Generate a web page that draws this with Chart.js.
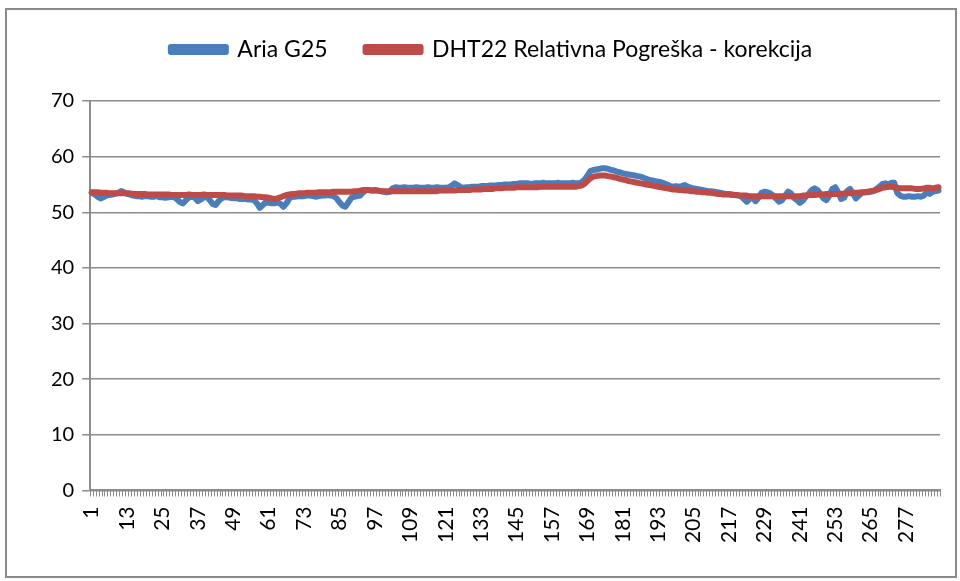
<!DOCTYPE html>
<html>
<head>
<meta charset="utf-8">
<script src="https://cdn.jsdelivr.net/npm/chart.js@4/dist/chart.umd.min.js"></script>
<style>
	html, body { margin: 0; padding: 0; background: #fff; }
	#wrap { position: relative; width: 960px; height: 581px; }
	#frame { position: absolute; left: 5px; top: 8px; width: 948px; height: 566px; border: 2px solid #8a8a8a; }
</style>
</head>
<body>
<div id="wrap">
	<div id="frame"></div>
	<canvas id="humid_line"></canvas>
</div>
<script>
// sample numbers 1..288, a label every 12th
const sampleCount = 288;
const labelStep = 12;
const categories = Array.from({ length: sampleCount }, (_, i) => String(i + 1));

const seriesNames = ['Aria G25', 'DHT22 Relativna Pogreška - korekcija'];

const ariaG25 = [
	53.5, 53.2, 52.8, 52.5, 52.7, 53.0, 53.1, 53.2, 53.3, 53.5, 53.8, 53.6,
	53.3, 53.2, 53.0, 52.9, 52.9, 52.8, 52.9, 52.9, 52.8, 52.8, 52.9, 52.7,
	52.7, 52.6, 52.7, 52.8, 52.7, 52.3, 51.8, 51.6, 52.2, 52.7, 52.8, 52.6,
	52.0, 52.3, 52.7, 52.8, 52.2, 51.5, 51.3, 52.0, 52.5, 52.7, 52.7, 52.6,
	52.5, 52.5, 52.4, 52.4, 52.4, 52.3, 52.3, 52.2, 51.6, 50.8, 51.3, 51.8,
	51.7, 51.6, 51.6, 51.8, 51.5, 51.0, 51.6, 52.5, 52.8, 52.8, 52.9, 52.9,
	52.9, 53.0, 53.0, 52.9, 52.8, 52.9, 53.0, 53.0, 53.1, 53.0, 52.9, 52.5,
	51.8, 51.2, 51.0, 51.8, 52.6, 52.8, 52.9, 53.0, 53.6, 54.0, 54.0, 53.9,
	54.0, 53.9, 53.8, 53.7, 53.6, 53.7, 54.3, 54.5, 54.4, 54.4, 54.5, 54.4,
	54.4, 54.4, 54.5, 54.4, 54.4, 54.4, 54.5, 54.4, 54.4, 54.5, 54.4, 54.4,
	54.4, 54.5, 54.8, 55.2, 54.9, 54.5, 54.4, 54.5, 54.5, 54.6, 54.6, 54.6,
	54.7, 54.7, 54.7, 54.8, 54.8, 54.8, 54.9, 54.9, 55.0, 55.0, 55.0, 55.1,
	55.1, 55.2, 55.2, 55.2, 55.2, 55.1, 55.2, 55.2, 55.2, 55.3, 55.2, 55.2,
	55.2, 55.2, 55.3, 55.2, 55.2, 55.2, 55.2, 55.3, 55.2, 55.2, 55.4, 55.8,
	56.6, 57.4, 57.6, 57.7, 57.8, 57.9, 57.9, 57.8, 57.6, 57.5, 57.3, 57.2,
	57.0, 56.9, 56.8, 56.7, 56.6, 56.5, 56.4, 56.2, 56.0, 55.8, 55.7, 55.6,
	55.5, 55.4, 55.2, 55.0, 54.7, 54.6, 54.7, 54.6, 54.7, 54.9, 54.6, 54.4,
	54.3, 54.2, 54.1, 54.0, 53.9, 53.8, 53.8, 53.7, 53.6, 53.5, 53.4, 53.3,
	53.3, 53.2, 53.1, 53.0, 52.9, 52.4, 51.9, 52.4, 52.6, 52.0, 52.6, 53.5,
	53.7, 53.6, 53.4, 53.0, 52.4, 51.9, 52.2, 53.0, 53.7, 53.4, 52.6, 52.2,
	51.7, 52.1, 52.8, 53.3, 54.0, 54.3, 54.0, 53.3, 52.5, 52.2, 53.0, 54.2,
	54.5, 53.6, 52.4, 52.6, 53.8, 54.2, 53.4, 52.5, 53.0, 53.5, 53.6, 53.6,
	53.7, 53.8, 54.2, 54.6, 55.1, 55.2, 55.0, 55.3, 55.3, 53.5, 53.0, 52.8,
	52.8, 52.9, 52.8, 52.8, 52.9, 52.8, 53.0, 53.6, 53.3, 53.7, 53.8, 53.9
];

const dht22Corr = [
	53.6, 53.6, 53.6, 53.5, 53.5, 53.5, 53.4, 53.4, 53.4, 53.4, 53.4, 53.4,
	53.4, 53.4, 53.3, 53.3, 53.3, 53.3, 53.3, 53.2, 53.2, 53.2, 53.2, 53.2,
	53.2, 53.2, 53.2, 53.1, 53.1, 53.1, 53.1, 53.1, 53.1, 53.2, 53.1, 53.1,
	53.1, 53.1, 53.2, 53.1, 53.1, 53.1, 53.1, 53.1, 53.1, 53.1, 53.0, 53.0,
	53.0, 53.0, 53.0, 53.0, 52.9, 52.9, 52.9, 52.9, 52.8, 52.8, 52.7, 52.7,
	52.6, 52.5, 52.4, 52.5, 52.7, 52.9, 53.1, 53.2, 53.3, 53.3, 53.4, 53.4,
	53.4, 53.5, 53.5, 53.5, 53.5, 53.6, 53.6, 53.6, 53.6, 53.6, 53.7, 53.7,
	53.7, 53.7, 53.7, 53.7, 53.7, 53.8, 53.8, 53.9, 54.0, 54.0, 54.0, 53.9,
	53.9, 53.9, 53.8, 53.8, 53.8, 53.8, 53.8, 53.8, 53.8, 53.8, 53.8, 53.8,
	53.8, 53.8, 53.8, 53.8, 53.8, 53.8, 53.8, 53.8, 53.8, 53.8, 53.9, 53.9,
	53.9, 53.9, 53.9, 53.9, 54.0, 54.0, 54.0, 54.0, 54.0, 54.1, 54.1, 54.1,
	54.1, 54.2, 54.2, 54.2, 54.2, 54.3, 54.3, 54.3, 54.4, 54.4, 54.4, 54.4,
	54.5, 54.5, 54.5, 54.5, 54.5, 54.5, 54.5, 54.5, 54.6, 54.6, 54.6, 54.6,
	54.6, 54.6, 54.6, 54.6, 54.6, 54.6, 54.6, 54.6, 54.6, 54.7, 54.8, 55.1,
	55.6, 56.1, 56.4, 56.5, 56.6, 56.6, 56.6, 56.5, 56.4, 56.3, 56.2, 56.0,
	55.9, 55.8, 55.6, 55.5, 55.4, 55.3, 55.2, 55.1, 55.0, 54.9, 54.8, 54.7,
	54.6, 54.5, 54.4, 54.3, 54.2, 54.1, 54.1, 54.0, 54.0, 53.9, 53.9, 53.8,
	53.8, 53.7, 53.7, 53.6, 53.6, 53.5, 53.5, 53.4, 53.3, 53.3, 53.2, 53.2,
	53.2, 53.1, 53.1, 53.1, 53.0, 53.0, 53.0, 52.9, 52.9, 52.9, 52.9, 52.9,
	52.9, 52.9, 52.9, 52.9, 52.9, 52.9, 52.9, 52.9, 52.9, 52.9, 52.9, 52.9,
	52.9, 53.0, 53.0, 53.1, 53.1, 53.1, 53.2, 53.2, 53.2, 53.3, 53.3, 53.3,
	53.3, 53.3, 53.3, 53.4, 53.4, 53.4, 53.5, 53.5, 53.5, 53.6, 53.6, 53.7,
	53.8, 53.9, 54.0, 54.2, 54.4, 54.5, 54.6, 54.6, 54.5, 54.4, 54.3, 54.3,
	54.3, 54.3, 54.3, 54.2, 54.2, 54.2, 54.3, 54.4, 54.4, 54.3, 54.4, 54.5
];

const yTicks = [0, 10, 20, 30, 40, 50, 60, 70];

const font = 'Lato, "Liberation Sans", sans-serif';
const gridGray = '#8c8c8c';

// extra room under the legend, like the Excel original
const legendGap = {
	id: 'legendGap',
	beforeInit(chart) {
		const fit = chart.legend.fit;
		chart.legend.fit = function () {
			fit.bind(chart.legend)();
			this.height += 30;
		};
	}
};

const data = {
	labels: categories,
	datasets: [{
		label: seriesNames[0],
		data: ariaG25,
		borderColor: '#4a7ebb',
		backgroundColor: '#4a7ebb',
		borderWidth: 6,
		borderJoinStyle: 'round',
		borderCapStyle: 'round',
		pointRadius: 0,
		order: 1
	}, {
		label: seriesNames[1],
		data: dht22Corr,
		borderColor: '#be4b48',
		backgroundColor: '#be4b48',
		borderWidth: 6,
		borderJoinStyle: 'round',
		borderCapStyle: 'round',
		pointRadius: 0,
		order: 0
	}]
};

const config = {
	type: 'line',
	data: data,
	plugins: [legendGap],
	options: {
		responsive: true,
		maintainAspectRatio: false,
		animation: false,
		layout: {
			padding: { left: 43, right: 20, top: 0, bottom: 28 }
		},
		scales: {
			x: {
				offset: true,
				afterFit: (axis) => { axis.paddingRight = 0; },
				grid: {
					offset: true,
					drawOnChartArea: false,
					drawTicks: true,
					tickLength: 6,
					tickColor: gridGray,
					lineWidth: 1
				},
				border: { color: gridGray, width: 2 },
				ticks: {
					autoSkip: false,
					minRotation: 90,
					maxRotation: 90,
					color: '#000',
					padding: 10,
					font: { family: font, size: 21 },
					callback: (val, idx) => (idx % labelStep === 0 ? categories[idx] : '')
				}
			},
			y: {
				min: yTicks[0],
				max: yTicks[yTicks.length - 1],
				afterBuildTicks: (axis) => { axis.ticks = yTicks.map(v => ({ value: v })); },
				grid: {
					color: gridGray,
					lineWidth: 1.5,
					tickLength: 8,
					tickColor: gridGray
				},
				border: { color: gridGray, width: 2 },
				ticks: {
					color: '#000',
					padding: 8,
					font: { family: font, size: 20 }
				}
			}
		},
		plugins: {
			legend: {
				display: true,
				position: 'top',
				labels: {
					color: '#000',
					boxWidth: 55,
					boxHeight: 5,
					padding: 38,
					font: { family: font, size: 23 },
					sort: (a, b) => a.datasetIndex - b.datasetIndex
				}
			},
			tooltip: { enabled: false }
		}
	}
};

var ctx = document.getElementById('humid_line');
if (ctx != null) {
	const chart = new Chart(ctx, config);
	if (chart != null) {
		chart.canvas.parentNode.style.height = '581px';
		chart.canvas.parentNode.style.width = '960px';
	}
}
</script>
</body>
</html>
